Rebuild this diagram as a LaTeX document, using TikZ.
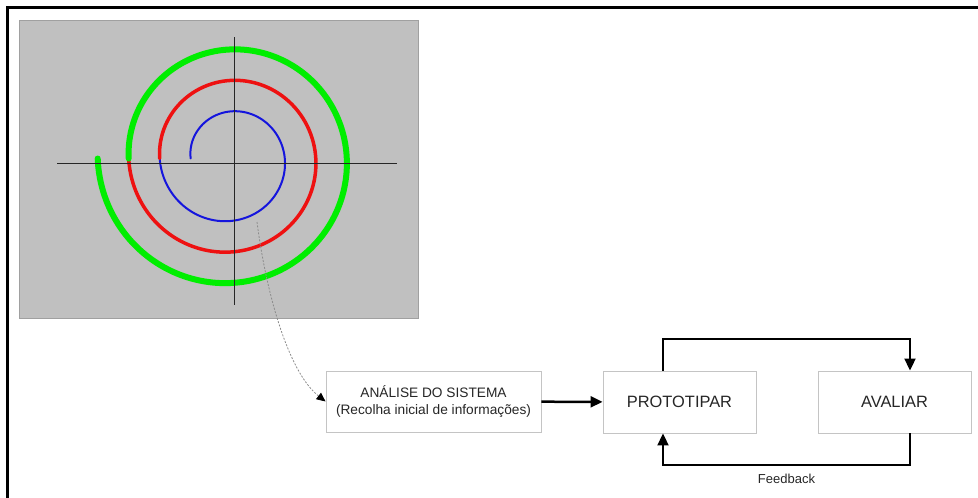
\documentclass[tikz,border=0pt]{standalone}
\usepackage{fontspec}
\setmainfont{Liberation Sans}
\usetikzlibrary{arrows.meta,positioning}
\definecolor{panelGray}{HTML}{C0C0C0}
\definecolor{panelEdge}{HTML}{A0A0A0}
\definecolor{boxEdge}{HTML}{C4C4C4}
\definecolor{spirGreen}{HTML}{00EE00}
\definecolor{spirRed}{HTML}{EE1111}
\definecolor{spirBlue}{HTML}{1515DD}

\begin{document}
\begin{tikzpicture}[x=1pt,y=-1pt,
  stage/.style={draw=boxEdge,line width=0.9pt,fill=white,text=black!85,
                minimum width=153pt,minimum height=62pt,inner sep=0pt,align=center},
  flow/.style={line width=2pt,-{Triangle[length=12pt,width=11pt]}},
  turn/.style={smooth,samples=120,variable=\t,line cap=round}]
  \useasboundingbox (0,0) rectangle (978,498);
  % frame
  \draw[line width=3pt] (7.5,498) -- (7.5,7.5) -- (978,7.5);
  % spiral panel, radius grows 31 per turn
  \draw[panelEdge,fill=panelGray,line width=1pt] (19,20) rectangle (418,318);
  \draw[spirBlue,line width=2pt,turn,domain=0:360]
    plot ({230-(39.3+0.086111*\t)*cos(\t)},{158.5-(39.3+0.086111*\t)*sin(\t)});
  \draw[spirRed,line width=3.5pt,turn,domain=360:720]
    plot ({230-(39.3+0.086111*\t)*cos(\t)},{158.5-(39.3+0.086111*\t)*sin(\t)});
  \draw[spirGreen,line width=6pt,turn,domain=720:1080]
    plot ({230-(39.3+0.086111*\t)*cos(\t)},{158.5-(39.3+0.086111*\t)*sin(\t)});
  \draw[black!85,line width=1pt] (57,163) -- (397,163);
  \draw[black!85,line width=1pt] (234,37) -- (234,305);
  % stages
  \node[stage,minimum width=215pt,minimum height=61pt,
        font=\fontsize{13.7}{17.5}\selectfont] (ana) at (433.5,401.5)
    {AN\'ALISE DO SISTEMA\\(Recolha inicial de informa\c{c}\~oes)};
  \node[stage,font=\fontsize{16.4}{19}\selectfont] (proto) at (679.5,402) {PROTOTIPAR};
  \node[stage,font=\fontsize{16.4}{19}\selectfont] (aval) at (894.5,402) {AVALIAR};
  % connectors
  \coordinate (tap) at (257,222);
  \draw[black!45,line width=0.8pt,dash pattern=on 2pt off 1.5pt,
        -{Triangle[length=9pt,width=8pt,color=black]}]
    (tap) .. controls (266,292) and (288,372) .. (ana.west);
  \draw[flow,line width=2.5pt] (ana) -- (proto);
  \draw[flow] ([xshift=-16.5pt]proto.north) -- ++(0,-32) -| ([xshift=15.5pt]aval.north);
  \draw[flow] ([xshift=15.5pt]aval.south) -- ++(0,32) -| ([xshift=-16.5pt]proto.south)
    node[pos=0.25,below=4pt,font=\fontsize{13}{15}\selectfont,text=black!85] {Feedback};
\end{tikzpicture}
\end{document}
